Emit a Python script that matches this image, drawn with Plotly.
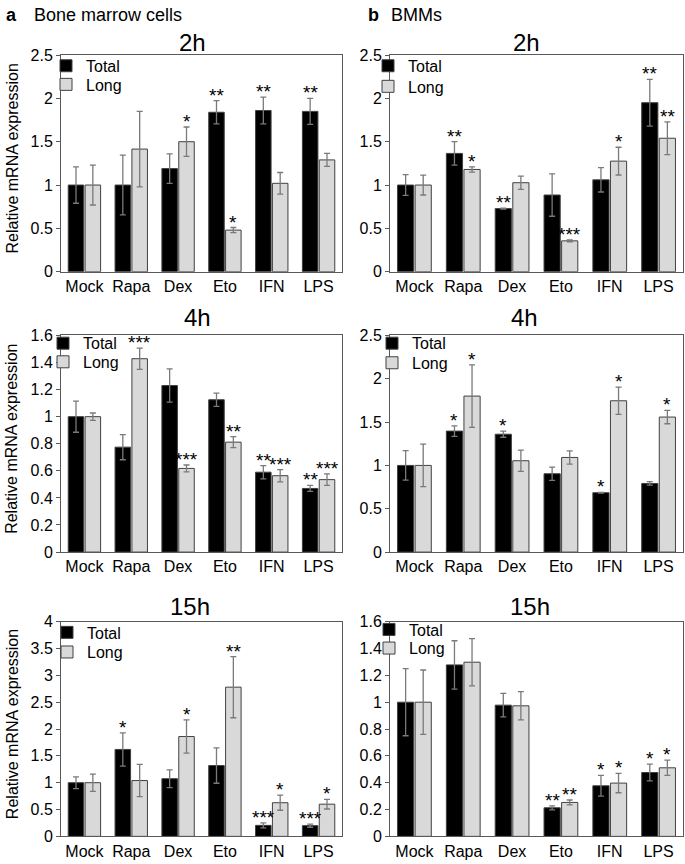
import plotly.graph_objects as go
from plotly.subplots import make_subplots

categories = ["Mock", "Rapa", "Dex", "Eto", "IFN", "LPS"]

# a: bone marrow cells
a2h_total = [1.00, 1.00, 1.19, 1.84, 1.86, 1.85]
a2h_total_err = [0.21, 0.345, 0.17, 0.135, 0.155, 0.15]
a2h_long = [1.00, 1.415, 1.50, 0.48, 1.02, 1.29]
a2h_long_err = [0.23, 0.435, 0.17, 0.03, 0.125, 0.075]
a2h_total_sig = ["", "", "", "**", "**", "**"]
a2h_long_sig = ["", "", "*", "*", "", ""]

a4h_total = [1.00, 0.775, 1.23, 1.125, 0.59, 0.47]
a4h_total_err = [0.115, 0.093, 0.123, 0.049, 0.049, 0.022]
a4h_long = [1.00, 1.428, 0.618, 0.812, 0.564, 0.535]
a4h_long_err = [0.027, 0.078, 0.025, 0.04, 0.045, 0.042]
a4h_total_sig = ["", "", "", "", "**", "**"]
a4h_long_sig = ["", "***", "***", "**", "***", "***"]

a15h_total = [1.00, 1.62, 1.075, 1.32, 0.205, 0.20]
a15h_total_err = [0.11, 0.31, 0.165, 0.33, 0.045, 0.03]
a15h_long = [1.00, 1.04, 1.86, 2.78, 0.627, 0.60]
a15h_long_err = [0.16, 0.30, 0.31, 0.57, 0.14, 0.09]
a15h_total_sig = ["", "*", "", "", "***", "***"]
a15h_long_sig = ["", "", "*", "**", "*", "*"]

# b: BMMs
b2h_total = [1.00, 1.365, 0.728, 0.885, 1.06, 1.95]
b2h_total_err = [0.12, 0.135, 0.005, 0.245, 0.14, 0.27]
b2h_long = [1.00, 1.18, 1.027, 0.356, 1.276, 1.54]
b2h_long_err = [0.115, 0.03, 0.077, 0.01, 0.16, 0.19]
b2h_total_sig = ["", "**", "**", "", "", "**"]
b2h_long_sig = ["", "*", "", "***", "*", "**"]

b4h_total = [1.00, 1.396, 1.36, 0.904, 0.685, 0.792]
b4h_total_err = [0.17, 0.06, 0.035, 0.077, 0.005, 0.02]
b4h_long = [1.00, 1.80, 1.054, 1.092, 1.746, 1.558]
b4h_long_err = [0.245, 0.36, 0.123, 0.077, 0.158, 0.077]
b4h_total_sig = ["", "*", "*", "", "*", ""]
b4h_long_sig = ["", "*", "", "", "*", "*"]

b15h_total = [1.00, 1.278, 0.978, 0.213, 0.377, 0.476]
b15h_total_err = [0.25, 0.18, 0.087, 0.015, 0.077, 0.062]
b15h_long = [1.00, 1.298, 0.973, 0.253, 0.397, 0.511]
b15h_long_err = [0.24, 0.176, 0.105, 0.018, 0.072, 0.057]
b15h_total_sig = ["", "", "", "**", "*", "*"]
b15h_long_sig = ["", "", "", "**", "*", "*"]

W, H = 685, 864
FONT = "Liberation Sans, Arial, sans-serif"


def fx(v):
    return v / W


def fy(v):
    return 1 - v / H


# (row, col, title, total, total_err, long, long_err, sigs, y max, dtick,
#  title x px, legend text x px, legend item centres px)
panels = [
    (1, 1, "2h", a2h_total, a2h_total_err, a2h_long, a2h_long_err,
     a2h_total_sig, a2h_long_sig, 2.5, 0.5, 192, 86, (59, 78)),
    (1, 2, "2h", b2h_total, b2h_total_err, b2h_long, b2h_long_err,
     b2h_total_sig, b2h_long_sig, 2.5, 0.5, 526, 408, (59, 80)),
    (2, 1, "4h", a4h_total, a4h_total_err, a4h_long, a4h_long_err,
     a4h_total_sig, a4h_long_sig, 1.6, 0.2, 197, 83, (342, 361)),
    (2, 2, "4h", b4h_total, b4h_total_err, b4h_long, b4h_long_err,
     b4h_total_sig, b4h_long_sig, 2.5, 0.5, 524, 412, (342, 362)),
    (3, 1, "15h", a15h_total, a15h_total_err, a15h_long, a15h_long_err,
     a15h_total_sig, a15h_long_sig, 4, 0.5, 190, 87, (637, 657)),
    (3, 2, "15h", b15h_total, b15h_total_err, b15h_long, b15h_long_err,
     b15h_total_sig, b15h_long_sig, 1.6, 0.2, 530, 409, (634, 653)),
]

col_px = {1: (61, 342), 2: (390, 683)}
row_px = {1: (48, 269), 2: (334, 555), 3: (626, 845)}
title_y = {1: 35, 2: 316, 3: 611}

fig = make_subplots(rows=3, cols=2)
annotations = []
offset = 0.18

for i, (r, c, ttl, tot, tot_e, lng, lng_e, tsig, lsig, ymax, dt,
        tx, lx, lys) in enumerate(panels):
    k = i + 1
    # one legend per entry so the two rows can sit close together
    leg_t = "legend" if i == 0 else f"legend{2 * i + 1}"
    leg_l = f"legend{2 * i + 2}"
    fig.add_trace(go.Bar(
        x=categories, y=tot, name="Total", legend=leg_t, showlegend=True,
        marker=dict(color="#000000", line=dict(color="#404040", width=1)),
        error_y=dict(type="data", array=tot_e, color="#7a7a7a",
                     thickness=1.3, width=3),
    ), row=r, col=c)
    fig.add_trace(go.Bar(
        x=categories, y=lng, name="Long", legend=leg_l, showlegend=True,
        marker=dict(color="#d9d9d9", line=dict(color="#404040", width=1)),
        error_y=dict(type="data", array=lng_e, color="#7a7a7a",
                     thickness=1.3, width=3),
    ), row=r, col=c)
    for leg, ly in ((leg_t, lys[0]), (leg_l, lys[1])):
        fig.layout[leg] = dict(
            x=fx(lx - 40), y=fy(ly), xanchor="left", yanchor="middle",
            bgcolor="rgba(0,0,0,0)",
            font=dict(size=16, color="#000000", family=FONT),
            itemwidth=30,
        )

    x0, x1 = col_px[c]
    y0, y1 = row_px[r]
    xa = "xaxis" if k == 1 else f"xaxis{k}"
    ya = "yaxis" if k == 1 else f"yaxis{k}"
    fig.layout[xa].domain = [fx(x0), fx(x1)]
    fig.layout[ya].domain = [fy(y1), fy(y0)]
    fig.layout[ya].range = [0, ymax]
    fig.layout[ya].dtick = dt

    xref = "x" if k == 1 else f"x{k}"
    yref = "y" if k == 1 else f"y{k}"
    for j in range(len(categories)):
        for val, err, sig, d in ((tot[j], tot_e[j], tsig[j], -offset),
                                 (lng[j], lng_e[j], lsig[j], offset)):
            if sig:
                annotations.append(dict(
                    x=j + d, y=val + err, xref=xref, yref=yref, text=sig,
                    showarrow=False, yanchor="bottom", yshift=-7,
                    font=dict(size=19, color="#000000", family=FONT),
                ))

    annotations.append(dict(
        x=fx(tx), y=fy(title_y[r]), xref="paper", yref="paper", text=ttl,
        showarrow=False, xanchor="center", yanchor="middle",
        font=dict(size=24, color="#000000", family=FONT),
    ))
    if c == 1:
        annotations.append(dict(
            x=fx(12), y=fy((y0 + y1) / 2 - 5), xref="paper", yref="paper",
            text="Relative mRNA expression", textangle=-90, showarrow=False,
            xanchor="center", yanchor="middle",
            font=dict(size=16, color="#000000", family=FONT),
        ))

# panel headers
annotations += [
    dict(x=fx(4), y=fy(7), text="<b>a</b>", xanchor="left"),
    dict(x=fx(32), y=fy(7), text="Bone marrow cells", xanchor="left"),
    dict(x=fx(366), y=fy(7), text="<b>b</b>", xanchor="left"),
    dict(x=fx(389), y=fy(7), text="BMMs", xanchor="left"),
]
for a in annotations[-4:]:
    a.update(xref="paper", yref="paper", yanchor="middle", showarrow=False,
             font=dict(size=18, color="#000000", family=FONT))

fig.update_xaxes(
    showline=True, linecolor="#595959", linewidth=1, mirror=True,
    ticks="", showgrid=False, tickfont=dict(size=16, color="#000000", family=FONT),
)
fig.update_yaxes(
    showline=True, linecolor="#595959", linewidth=1, mirror=True,
    ticks="outside", ticklen=4, tickcolor="#595959", showgrid=False,
    zeroline=False, tickfont=dict(size=16, color="#000000", family=FONT),
)

fig.update_layout(
    width=W, height=H,
    margin=dict(l=0, r=0, t=0, b=0),
    showlegend=True,
    barmode="group", bargap=0.28, bargroupgap=0.08,
    plot_bgcolor="#ffffff", paper_bgcolor="#ffffff",
    font=dict(family=FONT, color="#000000"),
    annotations=annotations,
)

# pin the figure to the top-left corner of the window, no scrollbars
pin = (
    "document.documentElement.style.overflow='hidden';"
    "document.body.style.margin='0';document.body.style.overflow='hidden';"
    "var d=document.getElementsByClassName('plotly-graph-div')[0];"
    "d.style.position='absolute';d.style.left='0px';d.style.top='0px';"
)
fig.write_html("out.html", config=dict(displayModeBar=False), post_script=pin)
